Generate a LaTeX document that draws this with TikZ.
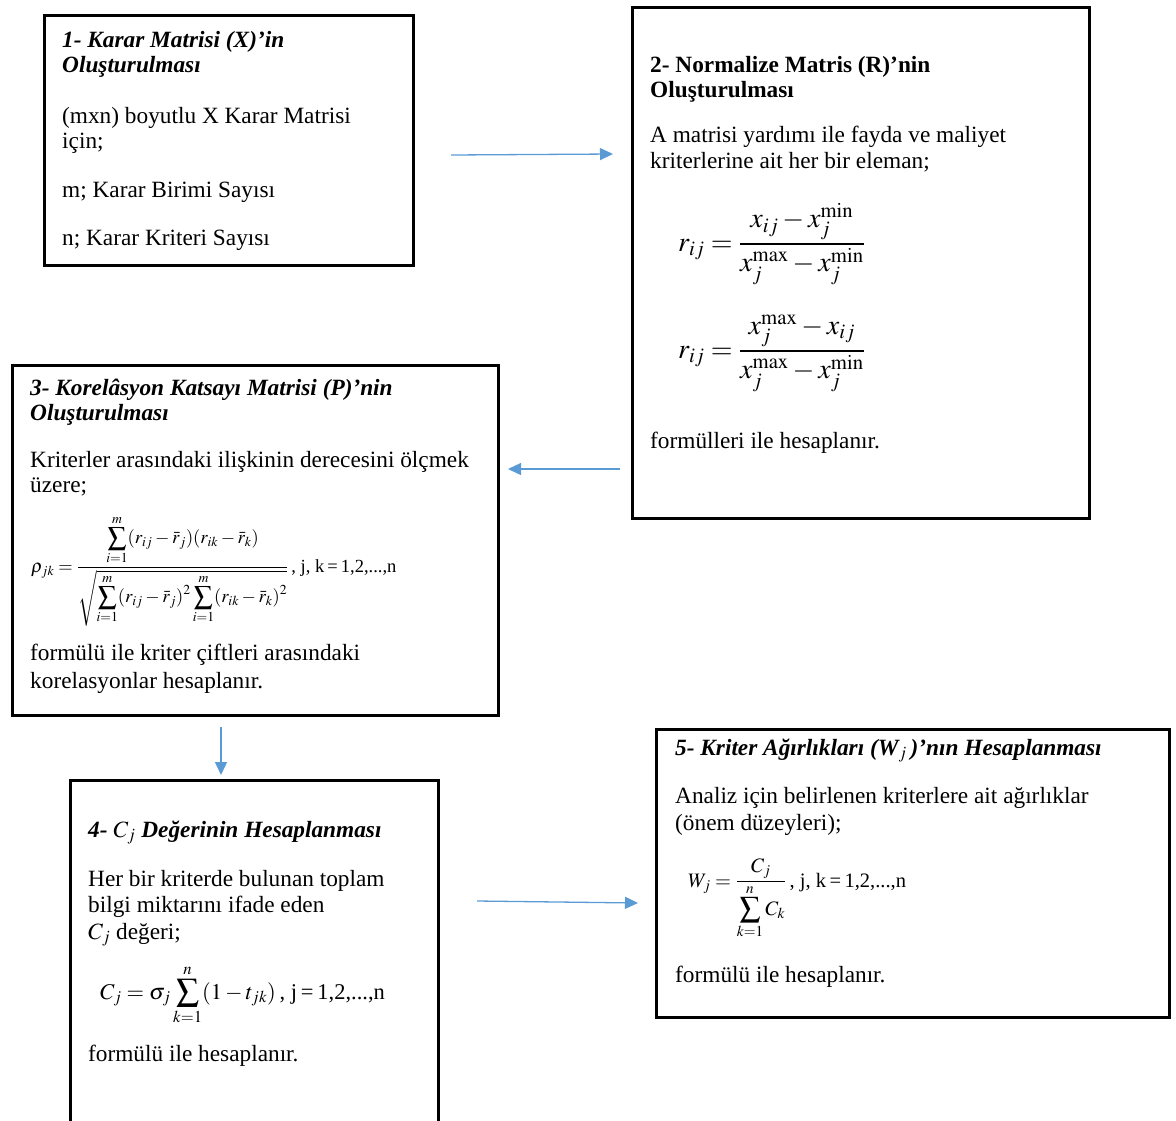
\documentclass[tikz,border=0pt]{standalone}
\usepackage{amsmath}
\usepackage{mathptmx}
\usepackage[no-math]{fontspec}
\setmainfont{Liberation Serif}
\usetikzlibrary{arrows.meta}
\definecolor{arrblue}{RGB}{91,155,213}
\tikzset{
  boxst/.style={draw=black, line width=2.5pt, rectangle, inner sep=0pt, anchor=north west},
  txt/.style={anchor=base west, inner sep=0pt, font=\fontsize{23.3}{25}\selectfont},
  ttl/.style={anchor=base west, inner sep=0pt, font=\fontsize{23.3}{25}\selectfont\bfseries\itshape},
  ttlup/.style={anchor=base west, inner sep=0pt, font=\fontsize{23.3}{25}\selectfont\bfseries},
  frm/.style={anchor=base west, inner sep=0pt},
  arr/.style={draw=arrblue, line width=1.3pt, -{Triangle[length=13pt,width=12pt]}},
}
\begin{document}
\begin{tikzpicture}[x=1pt,y=-1pt]
\useasboundingbox (0,0) rectangle (1176,1120);
% boxes
\node[boxst, minimum width=369pt, minimum height=250pt] (b1) at (43,14) {};
\node[boxst, minimum width=457pt, minimum height=511pt] (b2) at (631,6) {};
\node[boxst, minimum width=486pt, minimum height=350pt] (b3) at (11,364) {};
\node[boxst, minimum width=368pt, minimum height=360pt] (b4) at (69,779) {};
\node[boxst, minimum width=513pt, minimum height=288pt] (b5) at (655,728) {};
% box 1
\node[ttl] (t1a) at (62,47) {1- Karar Matrisi (X)’in};
\node[ttl] (t1b) at (62,72) {Oluşturulması};
\node[txt] (t1c) at (62,123) {(mxn) boyutlu X Karar Matrisi};
\node[txt] (t1d) at (62,148) {için;};
\node[txt] (t1e) at (62,197) {m; Karar Birimi Sayısı};
\node[txt] (t1f) at (62,245) {n; Karar Kriteri Sayısı};
% box 2
\node[ttlup] (t2a) at (650,72) {2- Normalize Matris (R)’nin};
\node[ttlup] (t2b) at (650,97) {Oluşturulması};
\node[txt] (t2c) at (650,142) {A matrisi yardımı ile fayda ve maliyet};
\node[txt] (t2d) at (650,168) {kriterlerine ait her bir eleman;};
\node[frm, font=\fontsize{28}{30}\selectfont] (f2a) at (678,251)
  {$r_{ij}=\dfrac{x_{ij}-x_j^{\mathrm{min}}}{x_j^{\mathrm{max}}-x_j^{\mathrm{min}}}$};
\node[frm, font=\fontsize{28}{30}\selectfont] (f2b) at (678,358)
  {$r_{ij}=\dfrac{x_j^{\mathrm{max}}-x_{ij}}{x_j^{\mathrm{max}}-x_j^{\mathrm{min}}}$};
\node[txt] (t2e) at (650,448) {formülleri ile hesaplanır.};
% box 3
\node[ttl] (t3a) at (30,395) {3- Korelâsyon Katsayı Matrisi (P)’nin};
\node[ttl] (t3b) at (30,420) {Oluşturulması};
\node[txt] (t3c) at (30,467) {Kriterler arasındaki ilişkinin derecesini ölçmek};
\node[txt] (t3d) at (30,492) {üzere;};
\node[frm, font=\fontsize{18.5}{20}\selectfont] (f3) at (31,572)
  {$\rho_{jk}=\dfrac{\displaystyle\sum_{i=1}^{m}(r_{ij}-\bar r_j)(r_{ik}-\bar r_k)}{\sqrt{\displaystyle\sum_{i=1}^{m}(r_{ij}-\bar r_j)^2\sum_{i=1}^{m}(r_{ik}-\bar r_k)^2}}$\,, j, k\,=\,1,2,...,n};
\node[txt] (t3e) at (30,660) {formülü ile kriter çiftleri arasındaki};
\node[txt] (t3f) at (30,688) {korelasyonlar hesaplanır.};
% box 4
\node[ttl] (t4a) at (88,837) {4- $C_j$ Değerinin Hesaplanması};
\node[txt] (t4b) at (88,886) {Her bir kriterde bulunan toplam};
\node[txt] (t4c) at (88,912) {bilgi miktarını ifade eden};
\node[txt] (t4d) at (88,939) {$C_j$ değeri;};
\node[frm, font=\fontsize{22.5}{24}\selectfont] (f4) at (100,999)
  {$C_j=\sigma_j\displaystyle\sum_{k=1}^{n}(1-t_{jk})$\,, j\,=\,1,2,...,n};
\node[txt] (t4e) at (88,1061) {formülü ile hesaplanır.};
% box 5
\node[ttl] (t5a) at (675,755) {5- Kriter Ağırlıkları (W$_j$\,)’nın Hesaplanması};
\node[txt] (t5b) at (675,803) {Analiz için belirlenen kriterlere ait ağırlıklar};
\node[txt] (t5c) at (675,830) {(önem düzeyleri);};
\node[frm, font=\fontsize{20.5}{22}\selectfont] (f5) at (688,887)
  {$W_j=\dfrac{C_j}{\displaystyle\sum_{k=1}^{n}C_k}$\,, j, k\,=\,1,2,...,n};
\node[txt] (t5d) at (675,982) {formülü ile hesaplanır.};
% arrows
\coordinate (a1s) at (451,155);
\coordinate (a1e) at (613,154);
\coordinate (a2s) at (620,469);
\coordinate (a2e) at (508,469);
\coordinate (a3s) at (221,727);
\coordinate (a3e) at (221,775);
\coordinate (a4s) at (477,901);
\coordinate (a4e) at (638,903);
\draw[arr] (a1s) -- (a1e);
\draw[arr] (a2s) -- (a2e);
\draw[arr] (a3s) -- (a3e);
\draw[arr] (a4s) -- (a4e);
\end{tikzpicture}
\end{document}
